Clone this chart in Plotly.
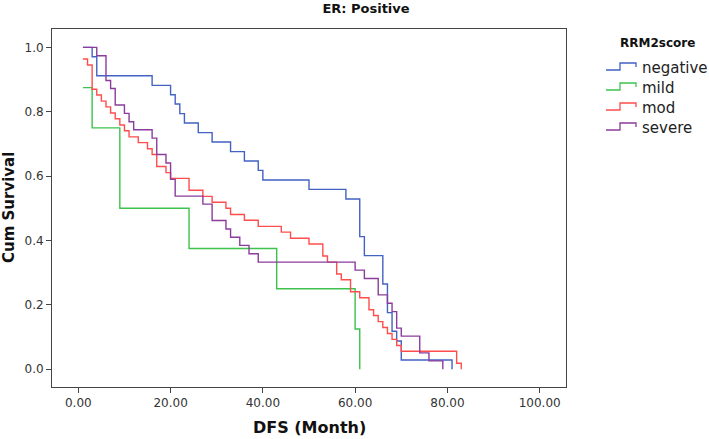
import plotly.graph_objects as go

# ---- data (DFS months, cumulative survival) ----
neg_time = [1, 3, 4, 16, 20, 21, 22, 23, 26, 29, 33, 36, 39, 40, 50, 58, 61, 62, 66, 67, 68, 69, 70, 81]
neg_surv = [1.0, 0.971, 0.912, 0.882, 0.853, 0.824, 0.794, 0.765, 0.735, 0.706, 0.676, 0.647, 0.618,
            0.588, 0.559, 0.529, 0.412, 0.353, 0.265, 0.176, 0.118, 0.088, 0.029, 0.0]

mild_time = [1, 3, 9, 24, 43, 60, 61]
mild_surv = [0.875, 0.75, 0.5, 0.375, 0.25, 0.125, 0.0]

mod_time = [1, 2, 3, 4, 5, 6, 7, 8, 9, 10, 11, 13, 15, 16, 17, 19, 20, 24, 27, 29, 32, 33, 36, 39,
            44, 46, 50, 53, 54, 56, 57, 59, 61, 63, 64, 65, 66, 67, 68, 69, 70, 82, 83]
mod_surv = [0.964, 0.945, 0.870, 0.852, 0.833, 0.815, 0.796, 0.778, 0.759, 0.741, 0.722, 0.704, 0.685,
            0.667, 0.630, 0.611, 0.593, 0.556, 0.537, 0.519, 0.500, 0.481, 0.463, 0.444, 0.426, 0.407,
            0.389, 0.352, 0.333, 0.296, 0.278, 0.241, 0.222, 0.185, 0.167, 0.148, 0.130, 0.111, 0.093,
            0.074, 0.056, 0.019, 0.0]

sev_time = [1, 4, 6, 7, 8, 10, 11, 12, 16, 17, 19, 20, 21, 27, 29, 32, 33, 35, 37, 39, 60, 62, 65,
            67, 68, 69, 70, 74, 76, 79]
sev_surv = [1.0, 0.974, 0.897, 0.872, 0.821, 0.795, 0.769, 0.744, 0.718, 0.667, 0.641, 0.590, 0.538,
            0.513, 0.462, 0.436, 0.410, 0.385, 0.359, 0.333, 0.308, 0.282, 0.231, 0.205, 0.179, 0.128,
            0.103, 0.051, 0.026, 0.0]

group_names = ["negative", "mild", "mod", "severe"]
legend_title = "RRM2score"
x_ticks = [0, 20, 40, 60, 80, 100]
y_ticks = [0.0, 0.2, 0.4, 0.6, 0.8, 1.0]

colors = ["#4262c4", "#3ec24e", "#ff4d4d", "#8a3d9c"]
series = [(neg_time, neg_surv), (mild_time, mild_surv), (mod_time, mod_surv), (sev_time, sev_surv)]

FONT = "DejaVu Sans"

fig = go.Figure()
for name, (t, s), c in zip(group_names, series, colors):
    fig.add_trace(go.Scatter(x=t, y=s, mode="lines", name=name, showlegend=False,
                             line=dict(color=c, width=1.4, shape="hv")))

W, H = 709, 439
L, R, T, B = 52, 143, 29, 52
plot_w = W - L - R
plot_h = H - T - B


def px_x(X):
    return (X - L) / plot_w


def px_y(Y):
    return (H - B - Y) / plot_h


fig.update_layout(
    width=W, height=H,
    margin=dict(l=L, r=R, t=T, b=B, autoexpand=False),
    paper_bgcolor="white", plot_bgcolor="white",
    font=dict(family=FONT, color="#222"),
    title=dict(text="<b>ER: Positive</b>", x=366 / W, xref="container",
               xanchor="center", y=1 - 8 / H, yref="container", yanchor="middle",
               font=dict(size=13, family=FONT, color="#111")),
    showlegend=False,
)

fig.update_xaxes(range=[-5.7, 105.7], tickvals=x_ticks, tickformat=".2f",
                 showgrid=False, zeroline=False, showline=True, mirror=True,
                 linecolor="#444", linewidth=1, ticks="outside", ticklen=5, tickcolor="#444",
                 tickfont=dict(size=12, family=FONT, color="#333"))
fig.update_yaxes(range=[-0.055, 1.057], tickvals=y_ticks, tickformat=".1f",
                 showgrid=False, zeroline=False, showline=True, mirror=True,
                 linecolor="#444", linewidth=1, ticks="outside", ticklen=5, tickcolor="#444",
                 tickfont=dict(size=12, family=FONT, color="#333"))

# axis titles
fig.add_annotation(text="<b>DFS (Month)</b>", xref="paper", yref="paper",
                   x=0.5, y=px_y(428), xanchor="center", yanchor="middle",
                   showarrow=False, font=dict(size=16, family=FONT, color="#111"))
fig.add_annotation(text="<b>Cum Survival</b>", xref="paper", yref="paper",
                   x=px_x(9), y=0.5, xanchor="center", yanchor="middle", textangle=-90,
                   showarrow=False, font=dict(size=15, family=FONT, color="#111"))

# legend (SPSS style, step-shaped keys)
fig.add_annotation(text="<b>%s</b>" % legend_title, xref="paper", yref="paper",
                   x=px_x(657), y=px_y(43), xanchor="center", yanchor="middle",
                   showarrow=False, font=dict(size=12, family=FONT, color="#111"))
for i, (name, c) in enumerate(zip(group_names, colors)):
    yc = 68 + 20 * i
    path = "M %f,%f L %f,%f L %f,%f L %f,%f L %f,%f" % (
        px_x(606), px_y(yc + 2), px_x(620), px_y(yc + 2), px_x(620), px_y(yc - 5),
        px_x(636), px_y(yc - 5), px_x(636), px_y(yc - 1))
    fig.add_shape(type="path", path=path, xref="paper", yref="paper",
                  line=dict(color=c, width=1.3))
    fig.add_annotation(text=name, xref="paper", yref="paper",
                       x=px_x(640), y=px_y(yc), xanchor="left", yanchor="middle",
                       showarrow=False, font=dict(size=15, family=FONT, color="#222"))

fig.write_html("out.html", config={"displayModeBar": False},
               post_script="document.body.style.margin='0';document.body.style.overflow='hidden';")
